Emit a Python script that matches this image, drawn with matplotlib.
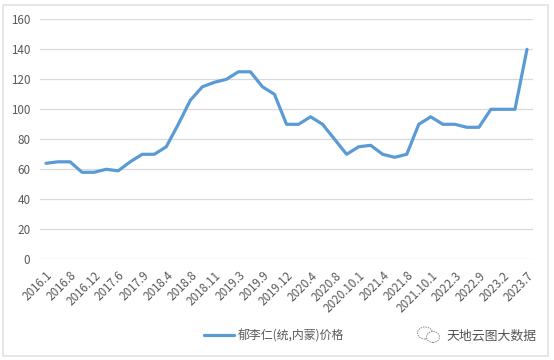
import matplotlib
matplotlib.use('Agg')
import matplotlib.pyplot as plt
from matplotlib.patches import Rectangle, Ellipse

plt.rcParams['font.family'] = ['Noto Sans CJK SC', 'DejaVu Sans']

# only every second month label is shown on the axis
tick_labels = ['2016.1', '2016.8', '2016.12', '2017.6', '2017.9', '2018.4', '2018.8',
               '2018.11', '2019.3', '2019.9', '2019.12', '2020.4', '2020.8', '2020.10.1',
               '2021.4', '2021.8', '2021.10.1', '2022.3', '2022.9', '2023.2', '2023.7']
prices = [64, 65, 65, 58, 58, 60, 59, 65, 70, 70, 75, 90, 106, 115, 118, 120, 125, 125,
          115, 110, 90, 90, 95, 90, 80, 70, 75, 76, 70, 68, 70, 90, 95, 90, 90, 88, 88,
          100, 100, 100, 140]
y_ticks = [0, 20, 40, 60, 80, 100, 120, 140, 160]
series_name = '郁李仁(统,内蒙)价格'
watermark = '天地云图大数据'

W, H = 554, 360
TEXT = '#595959'

fig = plt.figure(figsize=(W / 100, H / 100), dpi=100)
ax = fig.add_axes([40 / W, 1 - 259.3 / H, 493 / W, 240 / H])

x = list(range(len(prices)))
line, = ax.plot(x, prices, color='#5B9BD5', lw=2.3, solid_joinstyle='round',
                solid_capstyle='round', label=series_name)

ax.set_xlim(-0.5, len(prices) - 0.5)
ax.set_ylim(0, 160)
ax.set_yticks(y_ticks)
ax.set_xticks(x[::2])
ax.set_xticklabels(tick_labels, rotation=45, ha='right', rotation_mode='anchor',
                   fontsize=8.4, color=TEXT)
ax.tick_params(axis='x', length=0, pad=7)
ax.tick_params(axis='y', length=0, pad=7, labelsize=8.4, labelcolor=TEXT)
ax.grid(axis='y', color='#D9D9D9', lw=0.9)
ax.set_axisbelow(True)
for s in ax.spines.values():
    s.set_visible(False)

# legend sits low in the frame, left of the watermark
fig.legend(handles=[line], loc='center', bbox_to_anchor=(274 / W, 1 - 336 / H), frameon=False,
           fontsize=8.6, labelcolor=TEXT, handlelength=2.5, handletextpad=0.35)

# outer chart frame
fig.add_artist(Rectangle((2.5 / W, 1 - 355.5 / H), 545 / W, 350.5 / H, transform=fig.transFigure,
                         fill=False, ec='#E2E2E2', lw=1.2))

# watermark: two bubbles and the account name
for cx, cy, w, h in [(425, 333, 15, 12), (433, 337, 13, 11)]:
    fig.add_artist(Ellipse((cx / W, 1 - cy / H), w / W, h / H, transform=fig.transFigure,
                           fc='white', ec='#8A8A8A', lw=0.7, ls=(0, (1.5, 1))))
fig.text(446 / W, 1 - 336 / H, watermark, fontsize=9.3, color='#555555', va='center', ha='left')

fig.savefig('out.png', dpi=100)
